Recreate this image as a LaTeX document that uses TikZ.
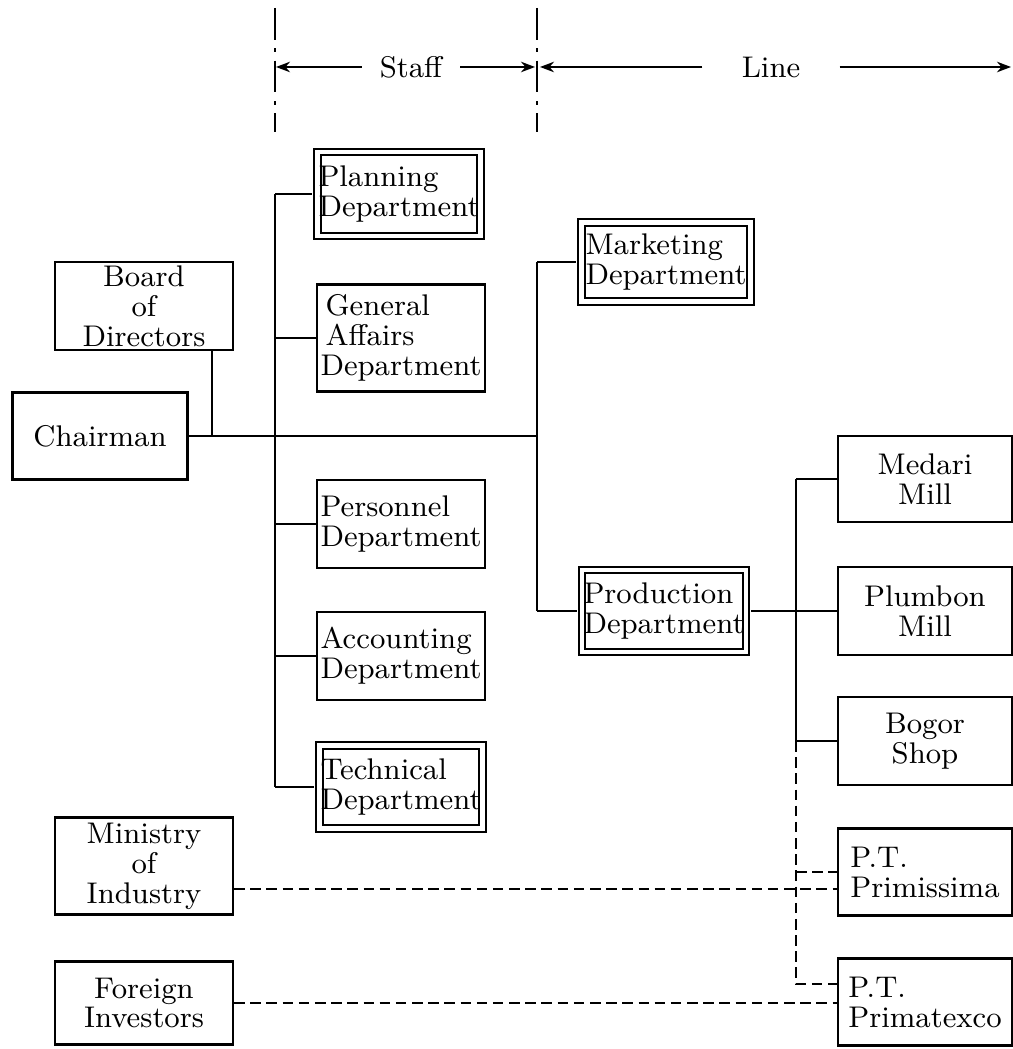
\documentclass[tikz,border=0pt]{standalone}
\usetikzlibrary{arrows.meta}

\newcommand{\orgfont}{\fontsize{8.5}{8.5}\selectfont}

\begin{document}
\begin{tikzpicture}[x=0.01cm, y=-0.01cm,
    orgbox/.style={draw, line width=0.6pt, align=center, font=\orgfont, inner sep=1pt},
    deptbox/.style={orgbox, double, double distance=1.2pt, align=left, inner sep=0.3pt, outer sep=1.5pt},
    link/.style={line width=0.6pt},
    dashlink/.style={line width=0.6pt, dash pattern=on 3pt off 1.6pt},
    divider/.style={line width=0.8pt, dash pattern=on 9pt off 2.5pt on 1pt off 2.5pt},
    spanarrow/.style={line width=0.5pt, -{Stealth[length=4pt,width=3pt]}}]
    \useasboundingbox (0,0) rectangle (1013,1049);
    \clip (0,0) rectangle (1013,1049);

    % Staff / Line header
    \draw[divider] (275,8) -- (275,132);
    \draw[divider] (537,8) -- (537,132);
    \node[font=\orgfont, inner xsep=5pt] (stafflbl) at (411,67) {Staff};
    \node[font=\orgfont, inner xsep=11pt] (linelbl) at (771,67) {Line};
    \coordinate (staffL) at (276,67);
    \coordinate (staffR) at (535,67);
    \coordinate (lineL) at (540,67);
    \coordinate (lineR) at (1011,67);
    \draw[spanarrow] (stafflbl) -- (staffL);
    \draw[spanarrow] (stafflbl) -- (staffR);
    \draw[spanarrow] (linelbl) -- (lineL);
    \draw[spanarrow] (linelbl) -- (lineR);

    % top management
    \node[orgbox, minimum width=1.78cm, minimum height=0.88cm] (board) at (144,306) {Board\\of\\Directors};
    \node[orgbox, minimum width=1.75cm, minimum height=0.87cm] (chair) at (100,436) {Chairman};

    % staff departments
    \node[deptbox, minimum width=1.55cm, minimum height=0.84cm] (plan) at (399,194) {Planning\\Department};
    \node[orgbox, align=left, minimum width=1.68cm, minimum height=1.07cm] (genaff) at (401,338) {\,General\\\,Affairs\\Department};
    \node[orgbox, align=left, minimum width=1.68cm, minimum height=0.88cm] (pers) at (401,524) {Personnel\\Department};
    \node[orgbox, align=left, minimum width=1.68cm, minimum height=0.88cm] (acct) at (401,656) {Accounting\\Department};
    \node[deptbox, minimum width=1.60cm, minimum height=0.83cm] (tech) at (401,787) {Technical\\Department};

    % line departments
    \node[deptbox, minimum width=1.69cm, minimum height=0.79cm] (mkt) at (666,262) {Marketing\\Department};
    \node[deptbox, minimum width=1.64cm, minimum height=0.82cm] (prod) at (664,611) {Production\\Department};

    % mills and shop
    \node[orgbox, minimum width=1.74cm, minimum height=0.86cm] (medari) at (925,479) {Medari\\Mill};
    \node[orgbox, minimum width=1.74cm, minimum height=0.88cm] (plumbon) at (925,611) {Plumbon\\Mill};
    \node[orgbox, minimum width=1.74cm, minimum height=0.88cm] (bogor) at (925,741) {Bogor\\Shop};

    % affiliated companies
    \node[orgbox, align=left, minimum width=1.74cm, minimum height=0.87cm] (prim) at (925,872) {P.T.\\Primissima};
    \node[orgbox, align=left, minimum width=1.74cm, minimum height=0.87cm] (primx) at (925,1002) {P.T.\\Primatexco};
    \node[orgbox, minimum width=1.78cm, minimum height=0.97cm] (ministry) at (144,866) {Ministry\\of\\Industry};
    \node[orgbox, minimum width=1.78cm, minimum height=0.83cm] (foreign) at (144,1003) {Foreign\\Investors};

    % chairman and board
    \coordinate (bjoin) at (212,436);
    \coordinate (lbus) at (537,436);
    \draw[link] (bjoin |- board.south) -- (bjoin);
    \draw[link] (chair.east) -- (lbus);

    % staff branch
    \coordinate (sbus) at (275,436);
    \draw[link] (plan.west -| sbus) -- (tech.west -| sbus);
    \foreach \d in {plan,genaff,pers,acct,tech}
        \draw[link] (\d.west -| sbus) -- (\d.west);

    % line branch
    \draw[link] (mkt.west -| lbus) -- (prod.west -| lbus);
    \foreach \d in {mkt,prod}
        \draw[link] (\d.west -| lbus) -- (\d.west);

    % production units
    \coordinate (mbus) at (796,611);
    \draw[link] (prod.east) -- (prod.east -| plumbon.west);
    \draw[link] (medari.west -| mbus) -- (bogor.west -| mbus);
    \foreach \d in {medari,bogor}
        \draw[link] (\d.west -| mbus) -- (\d.west);

    % dashed relations
    \coordinate (pxjoin) at (796,984);
    \coordinate (minjoin) at (500,889);
    \draw[dashlink] (bogor.west -| mbus) -- (pxjoin) -- (pxjoin -| primx.west);
    \draw[dashlink] (prim.west -| mbus) -- (prim.west);
    \draw[dashlink] (ministry.east |- minjoin) -- (prim.west |- minjoin);
    \draw[dashlink] (foreign.east) -- (foreign.east -| primx.west);
\end{tikzpicture}
\end{document}
